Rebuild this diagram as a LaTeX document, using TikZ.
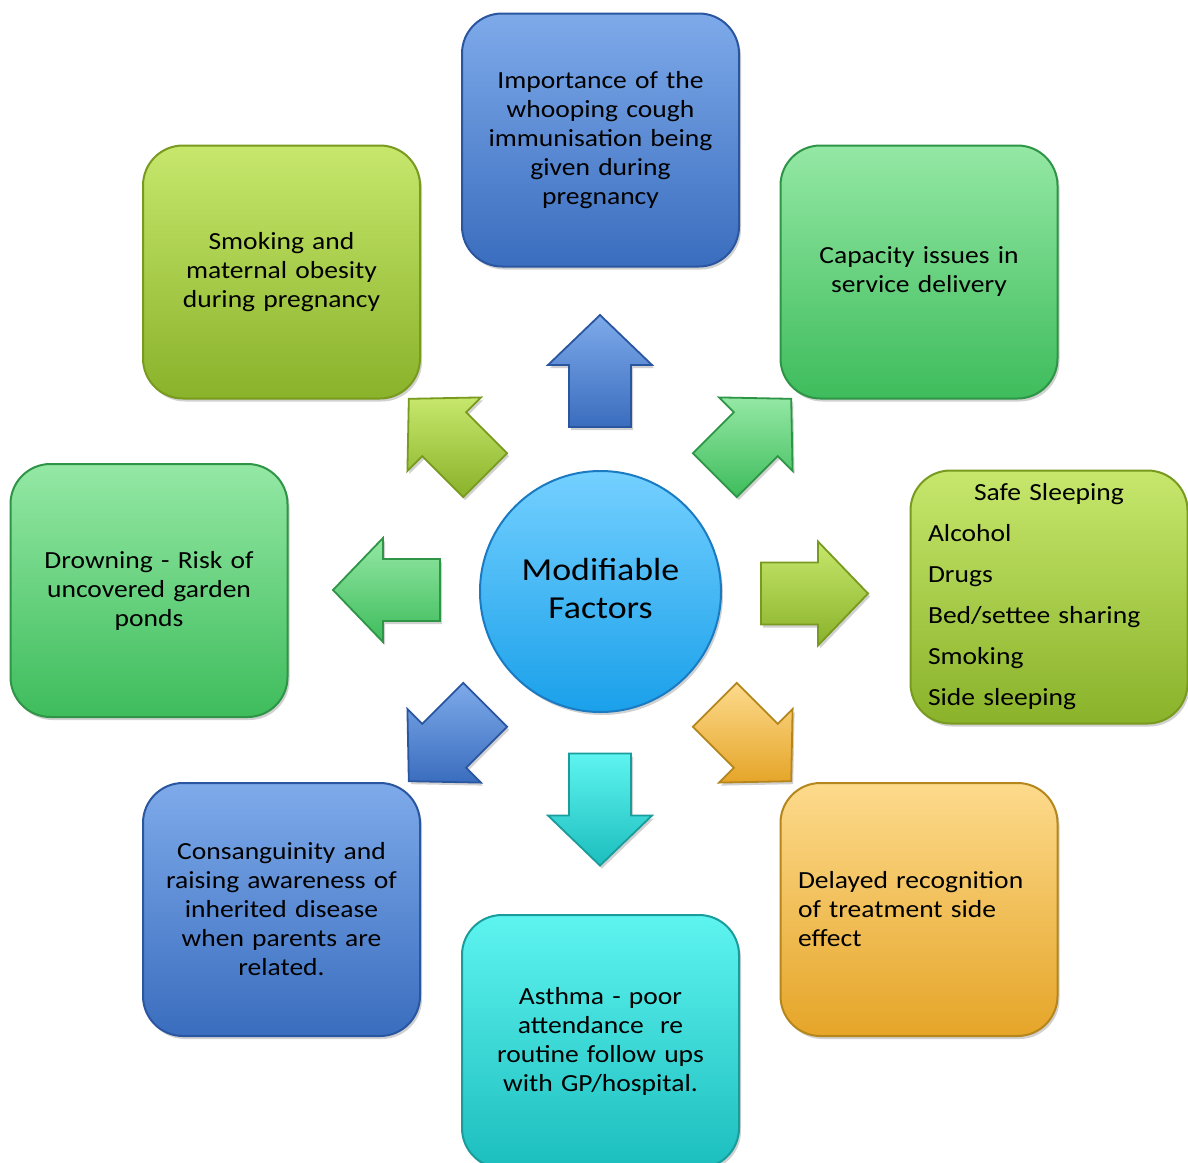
\documentclass[tikz,border=0pt]{standalone}
\usepackage{fontspec}
\setmainfont{Carlito}[FakeStretch=1.12]
\usetikzlibrary{shadows}
\definecolor{blueT}{HTML}{7EAAEA}
\definecolor{blueD}{HTML}{3A6DBE}
\definecolor{blueB}{HTML}{2A56A0}
\definecolor{ygT}{HTML}{C6E76C}
\definecolor{ygD}{HTML}{8AB22A}
\definecolor{ygB}{HTML}{789A1E}
\definecolor{grT}{HTML}{94E8A4}
\definecolor{grD}{HTML}{3EBC5C}
\definecolor{grB}{HTML}{2E9446}
\definecolor{orT}{HTML}{FDDA8C}
\definecolor{orD}{HTML}{E5A528}
\definecolor{orB}{HTML}{B5861C}
\definecolor{cyT}{HTML}{5EF4F0}
\definecolor{cyD}{HTML}{1CBEBE}
\definecolor{cyB}{HTML}{1A9C9C}
\definecolor{ciT}{HTML}{74D0FF}
\definecolor{ciD}{HTML}{1AA0EA}
\definecolor{ciB}{HTML}{1A7AC2}
\tikzset{
  shad/.style={drop shadow={shadow xshift=1pt,shadow yshift=-1.5pt,opacity=0.18,fill=black}},
  box/.style={shad, line width=1pt, rounded corners=20pt, minimum width=138.5pt,
    minimum height=126.5pt, inner sep=0pt, align=center, text width=130pt,
    font=\fontsize{12.3}{14.5}\selectfont},
  bluebox/.style={box, draw=blueB, top color=blueT, bottom color=blueD},
  ygbox/.style={box, draw=ygB, top color=ygT, bottom color=ygD},
  grbox/.style={box, draw=grB, top color=grT, bottom color=grD},
  orbox/.style={box, draw=orB, top color=orT, bottom color=orD},
  cybox/.style={box, draw=cyB, top color=cyT, bottom color=cyD},
  barrow/.style={shad, line width=0.9pt},
  bluearr/.style={barrow, draw=blueB, top color=blueT, bottom color=blueD},
  ygarr/.style={barrow, draw=ygB, top color=ygT, bottom color=ygD},
  grarr/.style={barrow, draw=grB, top color=grT, bottom color=grD},
  orarr/.style={barrow, draw=orB, top color=orT, bottom color=orD},
  cyarr/.style={barrow, draw=cyB, top color=cyT, bottom color=cyD},
}
% #1,#2 centre, #3 angle, #4 half length, #5 style
\newcommand\blockarrow[5]{%
  \pgfmathsetmacro\hb{#4-50}%
  \path[#5] ([shift={(#1,#2)},rotate=#3]#4,0)
    -- ([shift={(#1,#2)},rotate=#3]\hb,52)
    -- ([shift={(#1,#2)},rotate=#3]\hb,31)
    -- ([shift={(#1,#2)},rotate=#3]-#4,31)
    -- ([shift={(#1,#2)},rotate=#3]-#4,-31)
    -- ([shift={(#1,#2)},rotate=#3]\hb,-31)
    -- ([shift={(#1,#2)},rotate=#3]\hb,-52) -- cycle;}
\begin{document}
\begin{tikzpicture}[x=0.5pt,y=-0.5pt]
\clip (0,0) rectangle (1188,1162);
\fill[white] (0,0) rectangle (1188,1162);

% boxes
\node[bluebox] (top) at (600.5,140) {Importance of the\\whooping cough\\immunisation being\\given during\\pregnancy};
\node[ygbox] (tl) at (281.5,272) {Smoking and\\maternal obesity\\during pregnancy};
\node[grbox] (tr) at (919,272) {Capacity issues in\\service delivery};
\node[grbox] (lft) at (149,590.5) {Drowning - Risk of\\uncovered garden\\ponds};
\node[ygbox, align=left, text width=121pt, font=\fontsize{12.3}{20.5}\selectfont] (rgt) at (1049,597)
  {\makebox[121pt][c]{Safe Sleeping}\\Alcohol\\Drugs\\Bed/settee sharing\\Smoking\\Side sleeping};
\node[bluebox] (bl) at (281.5,909.5) {Consanguinity and\\raising awareness of\\inherited disease\\when parents are\\related.};
\node[cybox] (bot) at (600.5,1041.5) {Asthma - poor\\attendance\ \ re\\routine follow ups\\with GP/hospital.};
\node[orbox, align=left, text width=121pt] (br) at (919,909.5) {Delayed recognition\\of treatment side\\effect};

% centre
\node[circle, shad, draw=ciB, line width=1pt, top color=ciT, bottom color=ciD,
  minimum size=120.5pt, inner sep=0pt] (mf) at (600.5,591.5) {};
\node[align=center, font=\fontsize{16}{19}\selectfont, inner sep=0pt] (mft) at (600.5,588.5) {Modifiable\\Factors};

% block arrows
\blockarrow{600}{371}{90}{56}{bluearr}
\blockarrow{753}{437}{45}{54}{grarr}
\blockarrow{814.5}{593.5}{0}{53.5}{ygarr}
\blockarrow{753}{743}{-45}{54}{orarr}
\blockarrow{600}{809.5}{-90}{56}{cyarr}
\blockarrow{447}{743}{-135}{54}{bluearr}
\blockarrow{386.5}{590}{180}{53.5}{grarr}
\blockarrow{447}{437}{135}{54}{ygarr}
\end{tikzpicture}
\end{document}
